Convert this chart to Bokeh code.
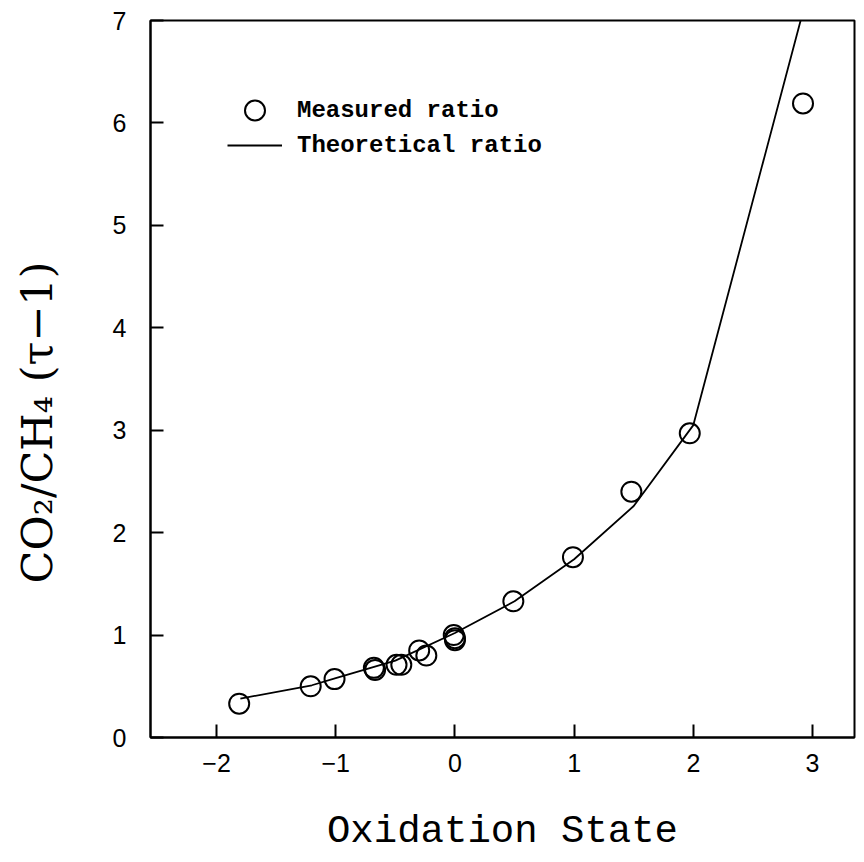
from bokeh.plotting import figure
from bokeh.models import Range1d, FixedTicker, Legend, LegendItem, Label
from bokeh.embed import file_html
from bokeh.resources import INLINE

# ---- data ----
measured_x = [-1.81, -1.21, -1.01, -0.68, -0.67, -0.49, -0.45, -0.30, -0.24,
              -0.01, 0.00, 0.00, 0.49, 0.99, 1.48, 1.97, 2.92]
measured_y = [0.33, 0.50, 0.57, 0.68, 0.66, 0.71, 0.71, 0.85, 0.80,
              1.00, 0.95, 0.97, 1.33, 1.76, 2.40, 2.97, 6.19]

theory_x = [-1.80, -1.20, -1.00, -0.50, 0.00, 0.50, 1.00, 1.50, 2.00, 2.90]
theory_y = [0.38, 0.51, 0.58, 0.75, 1.02, 1.33, 1.74, 2.26, 3.05, 7.00]

x_ticks = [-2, -1, 0, 1, 2, 3]
y_ticks = [0, 1, 2, 3, 4, 5, 6, 7]
x_tick_labels = {-2: "\u22122", -1: "\u22121"}

x_title = "Oxidation State"
y_title = "CO\u2082/CH\u2084 (\u03c4\u22121)"
legend_labels = ["Measured ratio", "Theoretical ratio"]

p = figure(width=856, height=856, output_backend="svg", toolbar_location=None,
           x_range=Range1d(-2.554, 3.352), y_range=Range1d(0, 7.0),
           min_border_left=150, min_border_right=2, min_border_top=20,
           min_border_bottom=119)
p.background_fill_color = "white"
p.border_fill_color = "white"
p.outline_line_color = "black"
p.outline_line_width = 2
p.xgrid.visible = False
p.ygrid.visible = False

for ax in (p.xaxis[0], p.yaxis[0]):
    ax.axis_line_width = 2
    ax.axis_line_color = "black"
    ax.major_tick_in = 13
    ax.major_tick_out = 0
    ax.major_tick_line_width = 2
    ax.minor_tick_line_color = None
    ax.major_label_text_font = "Liberation Sans"
    ax.major_label_text_font_size = "25px"
    ax.major_label_text_color = "black"

p.xaxis.ticker = FixedTicker(ticks=x_ticks)
p.yaxis.ticker = FixedTicker(ticks=y_ticks)
p.xaxis.major_label_overrides = x_tick_labels
p.xaxis.major_label_standoff = 16
p.yaxis.major_label_standoff = 24

p.xaxis.axis_label = x_title
p.xaxis.axis_label_text_font = "Liberation Mono"
p.xaxis.axis_label_text_font_style = "normal"
p.xaxis.axis_label_text_font_size = "39px"
p.xaxis.axis_label_text_color = "black"
p.xaxis.axis_label_standoff = 35

ylab = Label(x=-23, y=315, x_units="screen", y_units="screen", text=y_title,
             angle=90, angle_units="deg", text_align="center",
             text_baseline="alphabetic", text_font="DejaVu Serif",
             text_font_size="43px", text_color="black")
p.add_layout(ylab, "left")

r_line = p.line(theory_x, theory_y, line_color="black", line_width=1.8)
r_pts = p.scatter(measured_x, measured_y, marker="circle", size=20,
                  fill_color=None, line_color="black", line_width=2)

common = dict(orientation="vertical", glyph_width=55, label_standoff=15,
              padding=0, margin=0, label_text_font="Liberation Mono",
              label_text_font_style="bold", label_text_font_size="24px",
              label_text_color="black", background_fill_alpha=0,
              border_line_alpha=0)
legend1 = Legend(items=[LegendItem(label=legend_labels[0], renderers=[r_pts])],
                 location=(77, 602), glyph_height=50, **common)
legend2 = Legend(items=[LegendItem(label=legend_labels[1], renderers=[r_line])],
                 location=(77, 577), glyph_height=30, **common)
p.add_layout(legend1)
p.add_layout(legend2)

open("out.html", "w").write(file_html(p, INLINE))
